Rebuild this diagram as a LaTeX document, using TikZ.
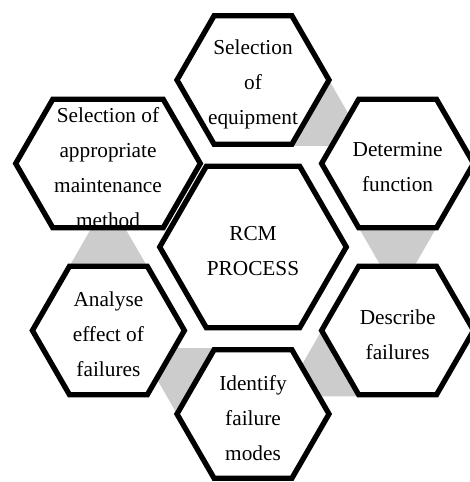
\documentclass[tikz,border=0pt]{standalone}
\usepackage{fontspec}
\setmainfont{Liberation Serif}
\usetikzlibrary{calc}
\definecolor{conncol}{RGB}{204,204,204}
\tikzset{
  hexline/.style={draw=black, fill=white, line width=5.3pt, line join=miter},
  hextext/.style={align=center, inner sep=0pt, font=\fontsize{21.3}{35}\selectfont, text=black},
  connfill/.style={fill=conncol, draw=none}
}
% #1 name of centre coordinate, #2 half width, #3 half height
\newcommand\hexdraw[3]{%
  \draw[hexline] ($(#1)+(-#2,0)$) -- ($(#1)+({-#2+#3*0.57735},-#3)$) -- ($(#1)+({#2-#3*0.57735},-#3)$)
    -- ($(#1)+(#2,0)$) -- ($(#1)+({#2-#3*0.57735},#3)$) -- ($(#1)+({-#2+#3*0.57735},#3)$) -- cycle;}
% gray funnel from #1 (wide) to #2 (narrow)
\newcommand\conndraw[2]{%
  \coordinate (cw) at ($(#1)!0.3683!(#2)$);
  \coordinate (cn) at ($(#1)!0.6796!(#2)$);
  \fill[connfill] ($(cw)!40.45pt!90:(#2)$) -- ($(cn)!10.43pt!90:(#2)$)
    -- ($(cn)!10.43pt!-90:(#2)$) -- ($(cw)!40.45pt!-90:(#2)$) -- cycle;}
\begin{document}
\begin{tikzpicture}[x=1pt,y=-1pt]
\useasboundingbox (0,0) rectangle (470,482);
\clip (0,0) rectangle (470,482);
% centres
\coordinate (cRCM) at (253,247);
\coordinate (cEquip) at (253,80);
\coordinate (cFunc) at (397.6,163.5);
\coordinate (cDesc) at (397.6,330.5);
\coordinate (cModes) at (253,414);
\coordinate (cEffect) at (108.4,330.5);
\coordinate (cMethod) at (108,163.5);
% connectors (behind)
\conndraw{cEquip}{cFunc}
\conndraw{cFunc}{cDesc}
\conndraw{cDesc}{cModes}
\conndraw{cModes}{cEffect}
\conndraw{cEffect}{cMethod}
% hexagons
\hexdraw{cRCM}{93.3}{80.8}
\hexdraw{cEquip}{76}{64.3}
\hexdraw{cFunc}{76}{64.3}
\hexdraw{cDesc}{76}{64.3}
\hexdraw{cModes}{76}{64.3}
\hexdraw{cEffect}{76}{64.3}
\hexdraw{cMethod}{92.3}{64.3}
% texts
\node[hextext] (rcm) at ($(cRCM)+(0,4)$) {RCM\\PROCESS};
\node[hextext] (equip) at ($(cEquip)+(0,4)$) {Selection\\of\\equipment};
\node[hextext] (func) at ($(cFunc)+(0,4)$) {Determine\\function};
\node[hextext] (desc) at ($(cDesc)+(0,4)$) {Describe\\failures};
\node[hextext] (modes) at ($(cModes)+(0,4)$) {Identify\\failure\\modes};
\node[hextext] (effect) at ($(cEffect)+(0,4)$) {Analyse\\effect of\\failures};
\node[hextext] (method) at ($(cMethod)+(0,4)$) {Selection of\\appropriate\\maintenance\\method};
\end{tikzpicture}
\end{document}
